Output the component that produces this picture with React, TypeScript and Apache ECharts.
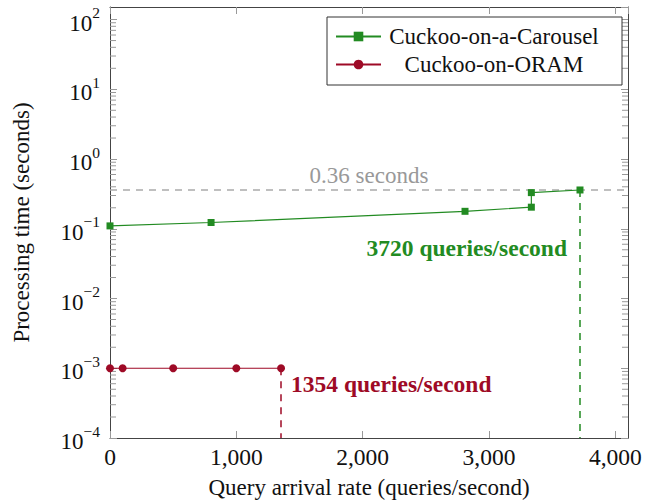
import React, { useEffect, useRef } from "react";
import * as echarts from "echarts";

// ---- data ----
const carouselX = [0, 800, 2810, 3335, 3335, 3720];
const carouselY = [0.11, 0.123, 0.178, 0.204, 0.33, 0.36];
const oramX = [0, 100, 500, 1000, 1354];
const oramY = [0.001, 0.001, 0.001, 0.001, 0.001];
const xTicks = [0, 1000, 2000, 3000, 4000];
const yDecades = [-4, -3, -2, -1, 0, 1, 2];
const thresholdSeconds = 0.36;
const carouselMaxRate = 3720;
const oramMaxRate = 1354;
const seriesNames = ["Cuckoo-on-a-Carousel", "Cuckoo-on-ORAM"];

const GREEN = "#228B22";
const RED = "#9E0A26";
const FONT = "Liberation Serif";
const L = (v: number) => Math.log10(v);

const X_MIN = 0;
const X_MAX = 4100;
const Y_MIN = -4;
const Y_MAX = 2.18;

// minor tick positions (2..9 x 10^n) for log axis decoration
const minorTicks: number[][] = [];
yDecades.slice(0, -1).forEach((n) => {
  for (let k = 2; k <= 9; k++) minorTicks.push([0, L(k * Math.pow(10, n))]);
});

export default function App() {
  const ref = useRef<HTMLDivElement>(null);
  useEffect(() => {
    if (!ref.current) return;
    const chart = echarts.init(ref.current, null, { renderer: "svg" });
    const frame = { show: true, onZero: false, lineStyle: { color: "#444", width: 1 } };
    const tick = { show: true, inside: true, length: 7, lineStyle: { color: "#999", width: 1 } };
    const fmtY = (v: number) => {
      const e = Math.round(v);
      return `{b|10}{s|${e < 0 ? "\u2212" + -e : e}}`;
    };
    chart.setOption({
      animation: false,
      backgroundColor: "#fff",
      textStyle: { fontFamily: FONT },
      grid: { left: 110, right: 26, top: 7, bottom: 65, outerBoundsMode: "none" },
      legend: {
        data: seriesNames,
        orient: "vertical",
        left: 327,
        top: 17,
        padding: [8, 20, 9, 8],
        itemWidth: 45,
        itemHeight: 12,
        itemGap: 5,
        borderColor: "#333",
        borderWidth: 1,
        borderRadius: 0,
        backgroundColor: "#fff",
        formatter: (name: string) => `{c|${name}}`,
        textStyle: {
          rich: {
            c: { width: 216, align: "center", fontSize: 23, lineHeight: 26, fontFamily: FONT, color: "#111" },
          },
        },
      },
      xAxis: [
        {
          type: "value",
          min: X_MIN,
          max: X_MAX,
          interval: 1000,
          axisLine: frame,
          axisTick: tick,
          splitLine: { show: false },
          axisLabel: {
            margin: 7,
            fontSize: 23.5,
            color: "#111",
            fontFamily: FONT,
            showMaxLabel: false,
            formatter: (v: number) => (xTicks.includes(v) ? v.toLocaleString("en-US") : ""),
          },
          name: "Query arrival rate (queries/second)",
          nameLocation: "middle",
          nameGap: 38,
          nameTextStyle: { fontSize: 23, color: "#111", fontFamily: FONT },
        },
        {
          type: "value",
          position: "top",
          min: X_MIN,
          max: X_MAX,
          interval: 1000,
          axisLine: frame,
          axisTick: tick,
          splitLine: { show: false },
          axisLabel: { show: false },
        },
      ],
      yAxis: [
        {
          type: "value",
          min: Y_MIN,
          max: Y_MAX,
          interval: 1,
          axisLine: frame,
          axisTick: tick,
          splitLine: { show: false },
          axisLabel: {
            margin: 10,
            color: "#111",
            showMaxLabel: false,
            formatter: fmtY,
            rich: {
              b: { fontSize: 23, fontFamily: FONT, color: "#111", lineHeight: 30, verticalAlign: "bottom" },
              s: { fontSize: 15.5, fontFamily: FONT, color: "#111", lineHeight: 30, verticalAlign: "top" },
            },
          },
          name: "Processing time (seconds)",
          nameLocation: "middle",
          nameGap: 77,
          nameTextStyle: { fontSize: 23, color: "#111", fontFamily: FONT },
        },
        {
          type: "value",
          position: "right",
          min: Y_MIN,
          max: Y_MAX,
          interval: 1,
          axisLine: frame,
          axisTick: tick,
          splitLine: { show: false },
          axisLabel: { show: false },
        },
      ],
      series: [
        {
          type: "custom",
          silent: true,
          xAxisIndex: 0,
          yAxisIndex: 0,
          data: minorTicks,
          encode: { x: 0, y: 1 },
          renderItem: (params: any, api: any) => {
            const y = api.coord([0, api.value(1)])[1];
            const cs = params.coordSys;
            const st = { stroke: "#999", lineWidth: 1 };
            return {
              type: "group",
              children: [
                { type: "line", shape: { x1: cs.x, y1: y, x2: cs.x + 6, y2: y }, style: st },
                { type: "line", shape: { x1: cs.x + cs.width, y1: y, x2: cs.x + cs.width - 6, y2: y }, style: st },
              ],
            };
          },
          z: 1,
        },
        {
          name: seriesNames[0],
          type: "line",
          data: carouselX.map((x, i) => [x, L(carouselY[i])]),
          symbol: "rect",
          symbolSize: 7,
          lineStyle: { color: GREEN, width: 1.2 },
          itemStyle: { color: GREEN },
          z: 5,
          markLine: {
            silent: true,
            symbol: ["none", "none"],
            animation: false,
            data: [
              [
                {
                  coord: [X_MIN, L(thresholdSeconds)],
                  lineStyle: { color: "#aaa", type: [7, 6], width: 1.5 },
                  label: {
                    show: true,
                    position: "insideMiddleTop",
                    distance: 3,
                    formatter: `${thresholdSeconds} seconds`,
                    color: "#999",
                    fontSize: 23,
                    fontFamily: FONT,
                  },
                },
                { coord: [X_MAX, L(thresholdSeconds)] },
              ],
              [
                {
                  coord: [carouselMaxRate, L(thresholdSeconds)],
                  lineStyle: { color: GREEN, type: [7, 6], width: 1.5 },
                  label: { show: false },
                },
                { coord: [carouselMaxRate, Y_MIN] },
              ],
            ],
          },
          markPoint: {
            silent: true,
            data: [
              {
                coord: [carouselMaxRate, L(0.053)],
                symbol: "circle",
                symbolSize: 0,
                label: {
                  show: true,
                  position: "left",
                  distance: 13,
                  formatter: `${carouselMaxRate} queries/second`,
                  color: GREEN,
                  fontWeight: "bold",
                  fontSize: 23.5,
                  fontFamily: FONT,
                },
              },
            ],
          },
        },
        {
          name: seriesNames[1],
          type: "line",
          data: oramX.map((x, i) => [x, L(oramY[i])]),
          symbol: "circle",
          symbolSize: 8,
          lineStyle: { color: RED, width: 1.2 },
          itemStyle: { color: RED },
          z: 5,
          markLine: {
            silent: true,
            symbol: ["none", "none"],
            animation: false,
            data: [
              [
                {
                  coord: [oramMaxRate, L(oramY[oramY.length - 1])],
                  lineStyle: { color: RED, type: [7, 6], width: 1.5 },
                  label: { show: false },
                },
                { coord: [oramMaxRate, Y_MIN] },
              ],
            ],
          },
          markPoint: {
            silent: true,
            data: [
              {
                coord: [oramMaxRate, L(0.000595)],
                symbol: "circle",
                symbolSize: 0,
                label: {
                  show: true,
                  position: "right",
                  distance: 10,
                  formatter: `${oramMaxRate} queries/second`,
                  color: RED,
                  fontWeight: "bold",
                  fontSize: 23.5,
                  fontFamily: FONT,
                },
              },
            ],
          },
        },
      ],
    });
    return () => chart.dispose();
  }, []);
  return (
    <div
      ref={ref}
      style={{ position: "fixed", left: 0, top: 0, width: 654, height: 503, background: "#fff" }}
    />
  );
}
